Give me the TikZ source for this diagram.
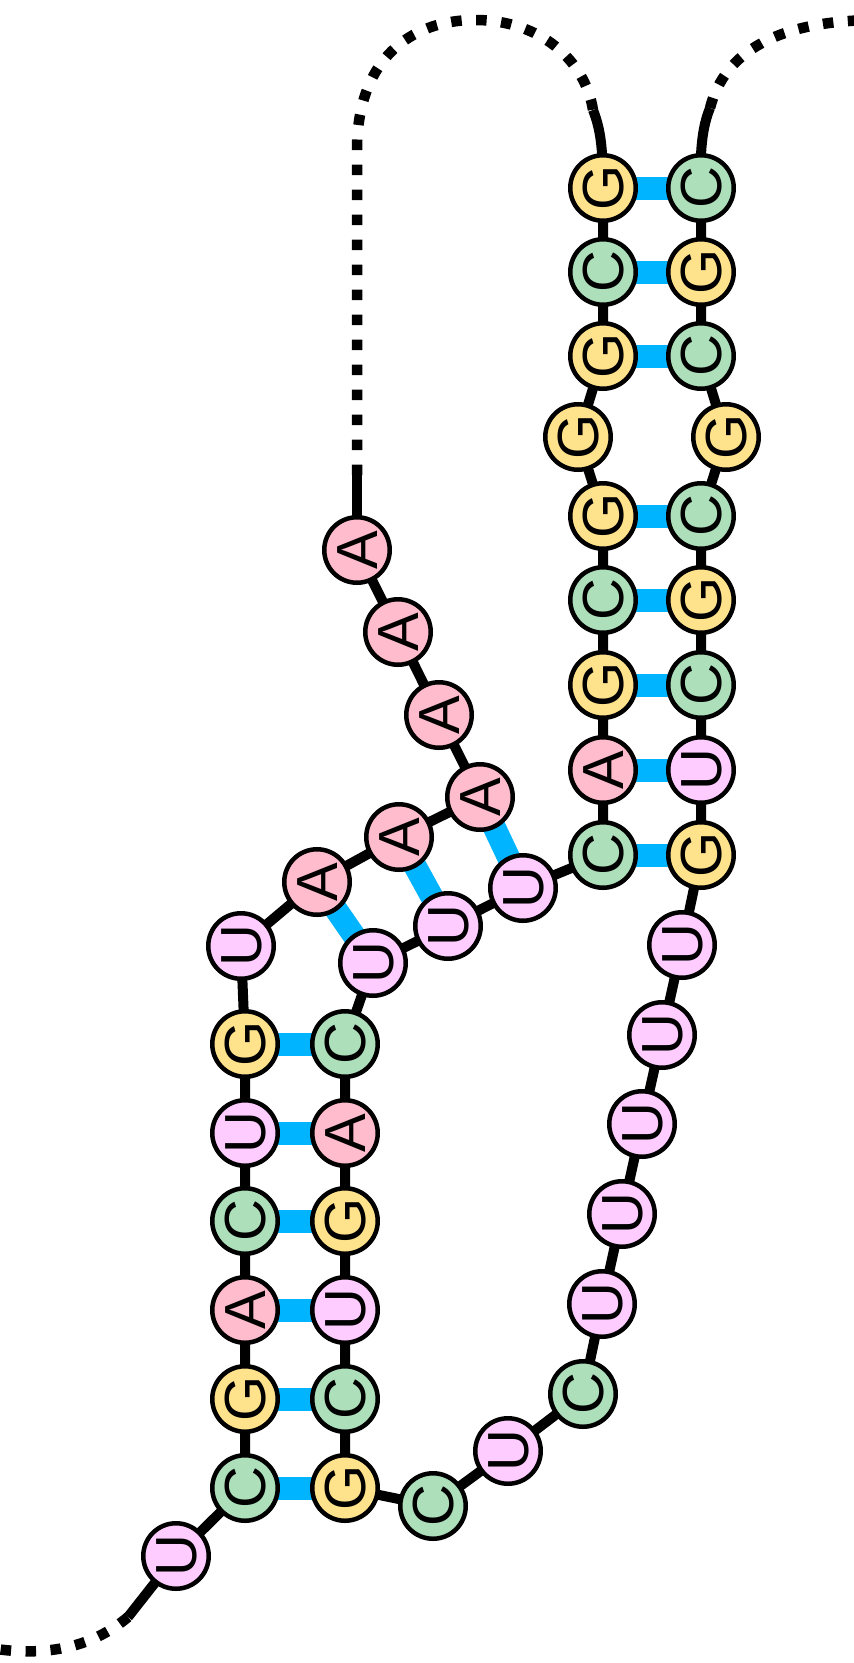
\documentclass[tikz,border=0pt]{standalone}
\usepackage{fontspec}
\setmainfont{Liberation Sans}
\usetikzlibrary{backgrounds}
\definecolor{ntA}{RGB}{255,188,204}
\definecolor{ntG}{RGB}{255,227,140}
\definecolor{ntC}{RGB}{173,223,187}
\definecolor{ntU}{RGB}{255,204,255}
\definecolor{pairblue}{RGB}{0,180,255}
\begin{document}
\begin{tikzpicture}[x=1pt,y=-1pt,
    base/.style={circle,draw,line width=4.5pt,minimum size=65.5pt,inner sep=0pt,
      rotate=90,font=\fontsize{58pt}{64pt}\selectfont,text height=40pt,text depth=0pt},
    bA/.style={base,fill=ntA},
    bG/.style={base,fill=ntG},
    bC/.style={base,fill=ntC},
    bU/.style={base,fill=ntU},
    backbone/.style={line width=10pt,line join=round},
    pairbar/.style={line width=23pt,draw=pairblue},
    dots/.style={line width=10.5pt,dash pattern=on 10.5pt off 14.5pt}]
  \useasboundingbox (0,0) rectangle (854,1663);
  \node[bU] (n1) at (176,1556) {U};
  \node[bC] (n2) at (245,1488) {C};
  \node[bG] (n3) at (245,1399) {G};
  \node[bA] (n4) at (245,1310) {A};
  \node[bC] (n5) at (245,1221) {C};
  \node[bU] (n6) at (245,1133) {U};
  \node[bG] (n7) at (245,1044) {G};
  \node[bU] (n8) at (241,946) {U};
  \node[bA] (n9) at (317,882) {A};
  \node[bA] (n10) at (399,837) {A};
  \node[bA] (n11) at (480,797) {A};
  \node[bA] (n12) at (439,715) {A};
  \node[bA] (n13) at (398,632) {A};
  \node[bA] (n14) at (357,550) {A};
  \node[bG] (n15) at (603,188) {G};
  \node[bC] (n16) at (603,272) {C};
  \node[bG] (n17) at (603,356) {G};
  \node[bG] (n18) at (578,437) {G};
  \node[bG] (n19) at (603,516) {G};
  \node[bC] (n20) at (603,600) {C};
  \node[bG] (n21) at (603,685) {G};
  \node[bA] (n22) at (603,770) {A};
  \node[bC] (n23) at (603,855) {C};
  \node[bU] (n24) at (523,888) {U};
  \node[bU] (n25) at (448,926) {U};
  \node[bU] (n26) at (373,963) {U};
  \node[bC] (n27) at (345,1044) {C};
  \node[bA] (n28) at (345,1133) {A};
  \node[bG] (n29) at (345,1221) {G};
  \node[bU] (n30) at (345,1310) {U};
  \node[bC] (n31) at (345,1399) {C};
  \node[bG] (n32) at (345,1488) {G};
  \node[bC] (n33) at (433,1506) {C};
  \node[bU] (n34) at (508,1451) {U};
  \node[bC] (n35) at (583,1394) {C};
  \node[bU] (n36) at (602,1304) {U};
  \node[bU] (n37) at (622,1214) {U};
  \node[bU] (n38) at (642,1124) {U};
  \node[bU] (n39) at (662,1035) {U};
  \node[bU] (n40) at (682,945) {U};
  \node[bG] (n41) at (701,855) {G};
  \node[bU] (n42) at (701,770) {U};
  \node[bC] (n43) at (701,685) {C};
  \node[bG] (n44) at (701,600) {G};
  \node[bC] (n45) at (701,516) {C};
  \node[bG] (n46) at (726,437) {G};
  \node[bC] (n47) at (701,356) {C};
  \node[bG] (n48) at (701,272) {G};
  \node[bC] (n49) at (701,188) {C};
  \coordinate (loopL) at (357,475);
  \coordinate (loopR) at (593,110);
  \coordinate (endR) at (710,108);
  \coordinate (endL) at (128,1617);
  \begin{pgfonlayer}{background}
    \foreach \a/\b in {2/32,3/31,4/30,5/29,6/28,7/27,9/26,10/25,11/24,
      15/49,16/48,17/47,19/45,20/44,21/43,22/42,23/41}
      \draw[pairbar] (n\a.center) -- (n\b.center);
    \draw[backbone] (n1.center) \foreach \i in {2,...,14} {-- (n\i.center)};
    \draw[backbone] (n15.center) \foreach \i in {16,...,49} {-- (n\i.center)};
    \draw[backbone] (n14.center) -- (loopL);
    \draw[backbone] (loopR) .. controls (600,128) and (603,145) .. (n15.center);
    \draw[backbone] (n49.center) -- (701,155) .. controls (702,135) and (705,120) .. (endR);
    \draw[backbone] (n1.center) -- (endL);
    \draw[dots] (loopL) -- (357,150) .. controls (357,60) and (410,20) .. (475,20)
      .. controls (540,20) and (585,60) .. (loopR);
    \draw[dots] (endR) .. controls (725,50) and (780,22) .. (870,20);
    \draw[dots] (endL) .. controls (95,1645) and (50,1658) .. (-10,1648);
  \end{pgfonlayer}
\end{tikzpicture}
\end{document}
